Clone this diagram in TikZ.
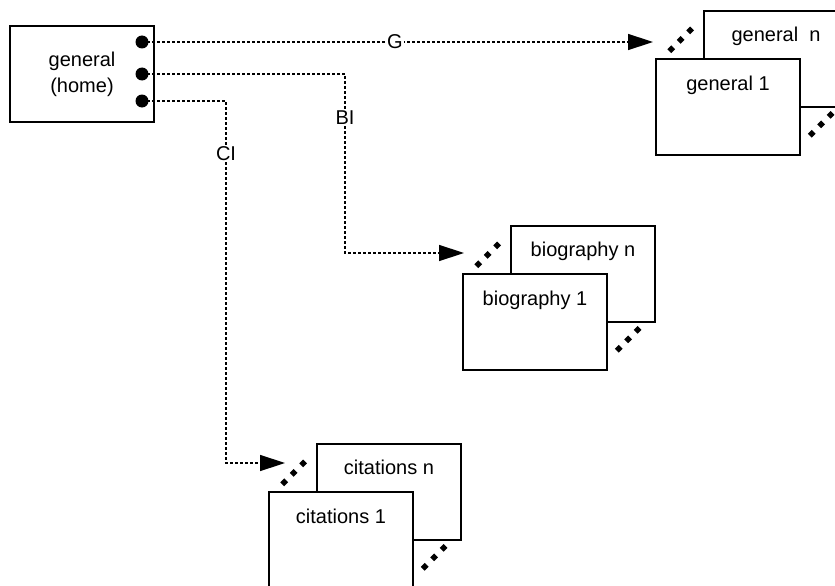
\documentclass[tikz,border=0pt]{standalone}
\usepackage{fontspec}
\setmainfont{Liberation Sans}
\usetikzlibrary{arrows.meta, positioning}
\tikzset{
page/.style={draw, line width=1.4pt, fill=white, minimum width=144pt, minimum height=96pt, inner sep=0pt},
port/.style={circle, fill, inner sep=0pt, minimum size=13pt},
link/.style={line width=1.4pt, dash pattern=on 3pt off 2pt, -{Triangle[length=25pt,width=16pt]}},
more/.style={line width=5.5pt, dash pattern=on 5.5pt off 7.9pt},
tag/.style={fill=white, inner sep=1pt},
every node/.style={font=\fontsize{20}{26}\selectfont}
}

\begin{document}
\begin{tikzpicture}[x=1pt, y=-1pt]
\useasboundingbox (0,0) rectangle (835,586);
% home page and its links
\node[page, align=center] (home) at (82,74) {general\\(home)};
\node[port] (pG) at (142,42) {};
\node[port] (pB) at (142,74) {};
\node[port] (pC) at (142,101) {};
% page stacks: back page first
\node[page] (genN) at (776,59) {};
\node[page] (gen1) at (728,107) {};
\node[page] (bioN) at (583,274) {};
\node[page] (bio1) at (535,322) {};
\node[page] (citN) at (389,492) {};
\node[page] (cit1) at (341,540) {};
\node[anchor=base] at ([yshift=-31pt]genN.north) {general\ \ n};
\node[anchor=base] at ([yshift=-32pt]gen1.north) {general 1};
\node[anchor=base] at ([yshift=-31pt]bioN.north) {biography n};
\node[anchor=base] at ([yshift=-32pt]bio1.north) {biography 1};
\node[anchor=base] at ([yshift=-31pt]citN.north) {citations n};
\node[anchor=base] at ([yshift=-32pt]cit1.north) {citations 1};
\foreach \p in {gen1, bio1, cit1} {
  \draw[more] ([shift={(14,-7)}]\p.north west) -- ([shift={(37,-30)}]\p.north west);
  \draw[more] ([shift={(9,-20)}]\p.south east) -- ([shift={(32,-43)}]\p.south east);
}
% links
\coordinate (genIn) at (653,42);
\coordinate (bioTurn) at (345,253);
\coordinate (bioIn) at (464,253);
\coordinate (citTurn) at (226,463);
\coordinate (citIn) at (285,463);
\draw[link] (pG.center) -- (genIn);
\draw[link] (pB.center) -| (bioTurn) -- (bioIn);
\draw[link] (pC.center) -| (citTurn) -- (citIn);
\node[tag] (G) at (395,42) {G};
\node[tag] (BI) at (345,118) {BI};
\node[tag] (CI) at (226,154) {CI};
\end{tikzpicture}
\end{document}
